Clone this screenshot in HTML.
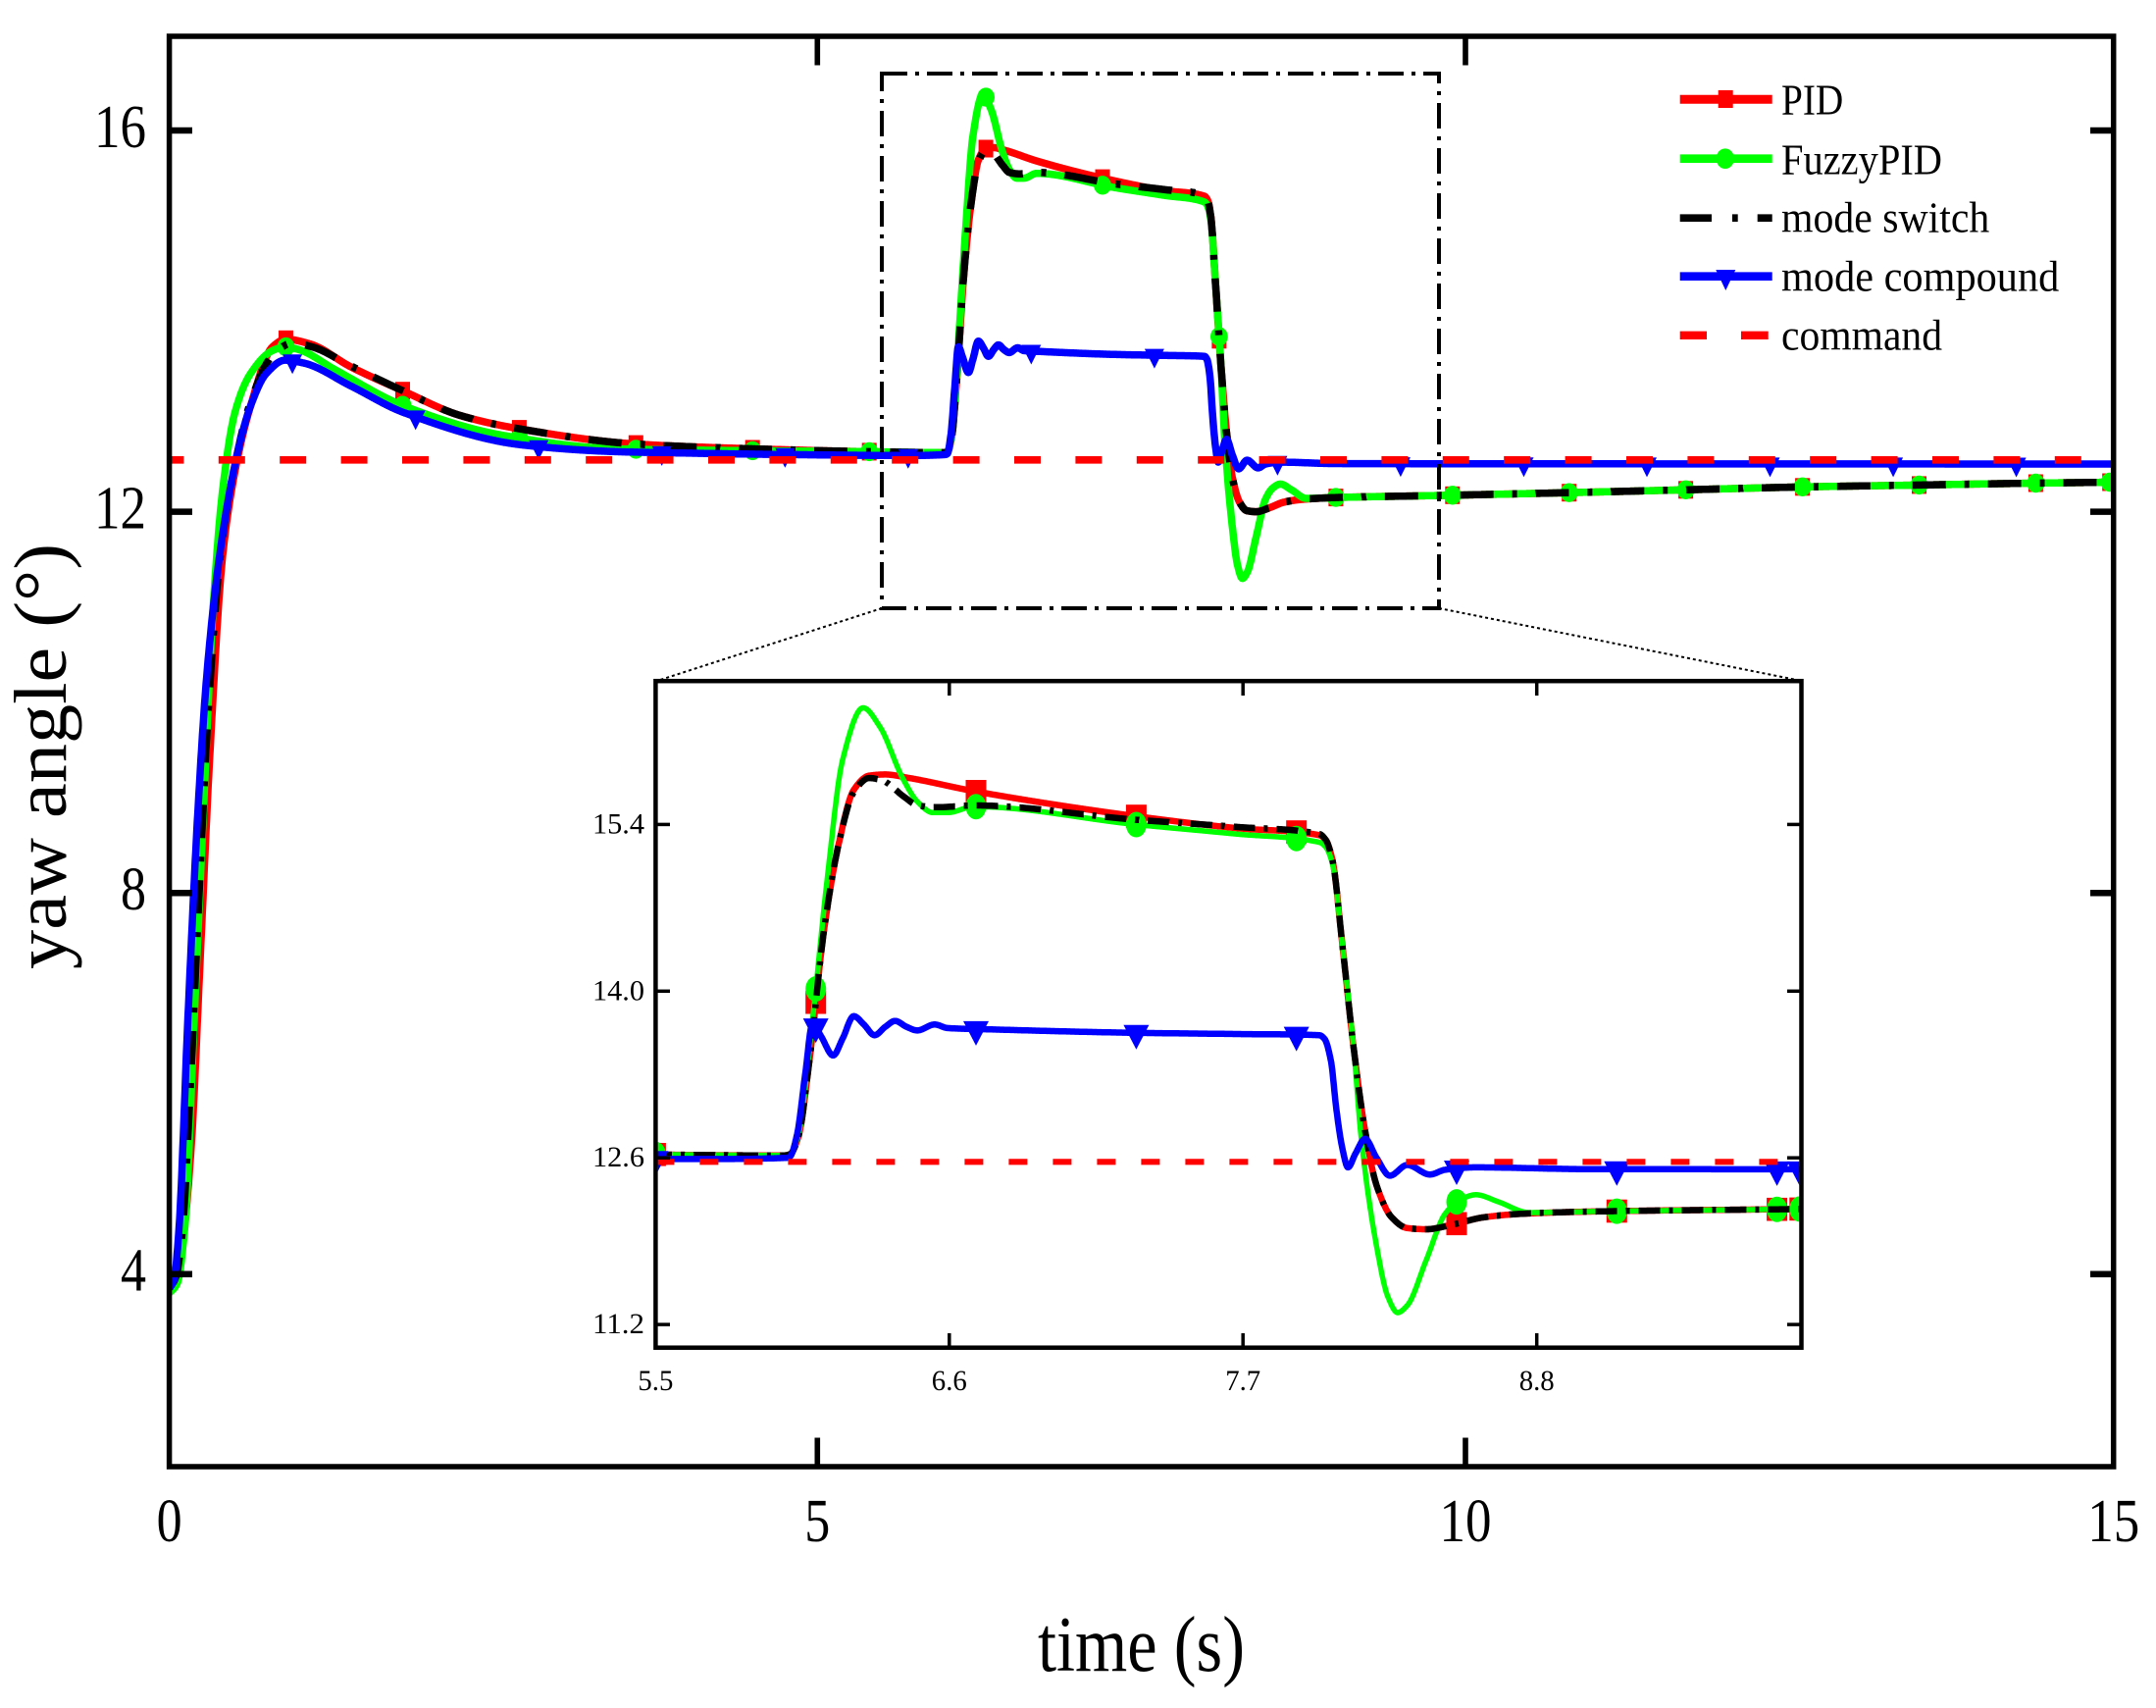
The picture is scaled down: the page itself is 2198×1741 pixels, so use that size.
<!DOCTYPE html>
<html><head><meta charset="utf-8">
<style>
html,body{margin:0;padding:0;background:#fff}
svg{display:block}
text{font-family:"Liberation Serif","DejaVu Serif",serif;fill:#000}
</style>
</head><body>
<svg id="s" xmlns="http://www.w3.org/2000/svg" width="2198" height="1741" viewBox="0 0 2198 1741">
<defs>
<clipPath id="cm"><rect x="175" y="39.5" width="1977" height="1453"/></clipPath>
<clipPath id="ci"><rect x="670.6" y="696.4" width="1163.7" height="675"/></clipPath>
</defs>
<rect width="2198" height="1741" fill="#fff"/>
<g id="mainlines" clip-path="url(#cm)"></g>

<!-- zoom box -->
<rect x="899" y="75" width="568" height="545" fill="none" stroke="#000" stroke-width="4" stroke-dasharray="26 8 4 8"/>
<line x1="899" y1="620" x2="670" y2="694" stroke="#000" stroke-width="2" stroke-dasharray="3 3"/>
<line x1="1467" y1="620" x2="1836.5" y2="694" stroke="#000" stroke-width="2" stroke-dasharray="3 3"/>

<!-- inset -->
<rect x="668.4" y="694.2" width="1168.1" height="679.5" fill="#fff"/>
<g id="insetlines" clip-path="url(#ci)"></g>
<rect x="668.4" y="694.2" width="1168.1" height="679.5" fill="none" stroke="#000" stroke-width="4.5"/>
<g stroke="#000" stroke-width="3.5">
<line x1="967.8" y1="1373.7" x2="967.8" y2="1359"/>
<line x1="1267.2" y1="1373.7" x2="1267.2" y2="1359"/>
<line x1="1566.7" y1="1373.7" x2="1566.7" y2="1359"/>
<line x1="967.8" y1="694.2" x2="967.8" y2="709"/>
<line x1="1267.2" y1="694.2" x2="1267.2" y2="709"/>
<line x1="1566.7" y1="694.2" x2="1566.7" y2="709"/>
<line x1="668.4" y1="840.4" x2="683" y2="840.4"/>
<line x1="668.4" y1="1010.3" x2="683" y2="1010.3"/>
<line x1="668.4" y1="1180.2" x2="683" y2="1180.2"/>
<line x1="668.4" y1="1350.1" x2="683" y2="1350.1"/>
<line x1="1836.5" y1="840.4" x2="1822" y2="840.4"/>
<line x1="1836.5" y1="1010.3" x2="1822" y2="1010.3"/>
<line x1="1836.5" y1="1180.2" x2="1822" y2="1180.2"/>
<line x1="1836.5" y1="1350.1" x2="1822" y2="1350.1"/>
</g>
<g font-size="30">
<text x="657" y="849.4" text-anchor="end" textLength="53" lengthAdjust="spacingAndGlyphs">15.4</text>
<text x="657" y="1019.3" text-anchor="end" textLength="53" lengthAdjust="spacingAndGlyphs">14.0</text>
<text x="657" y="1189.2" text-anchor="end" textLength="53" lengthAdjust="spacingAndGlyphs">12.6</text>
<text x="657" y="1359.1" text-anchor="end" textLength="53" lengthAdjust="spacingAndGlyphs">11.2</text>
<text x="668.4" y="1417" text-anchor="middle" textLength="36" lengthAdjust="spacingAndGlyphs">5.5</text>
<text x="967.8" y="1417" text-anchor="middle" textLength="36" lengthAdjust="spacingAndGlyphs">6.6</text>
<text x="1267.2" y="1417" text-anchor="middle" textLength="36" lengthAdjust="spacingAndGlyphs">7.7</text>
<text x="1566.7" y="1417" text-anchor="middle" textLength="36" lengthAdjust="spacingAndGlyphs">8.8</text>
</g>

<!-- main frame -->
<rect x="172.6" y="37" width="1982.1" height="1458" fill="none" stroke="#000" stroke-width="5.5"/>
<g stroke="#000" stroke-width="6.5">
<line x1="172.6" y1="133" x2="196" y2="133"/>
<line x1="172.6" y1="521.6" x2="196" y2="521.6"/>
<line x1="172.6" y1="910.2" x2="196" y2="910.2"/>
<line x1="172.6" y1="1298.8" x2="196" y2="1298.8"/>
<line x1="2154.7" y1="133" x2="2131" y2="133"/>
<line x1="2154.7" y1="521.6" x2="2131" y2="521.6"/>
<line x1="2154.7" y1="910.2" x2="2131" y2="910.2"/>
<line x1="2154.7" y1="1298.8" x2="2131" y2="1298.8"/>
</g>
<g stroke="#000" stroke-width="5.6">
<line x1="833.3" y1="1495" x2="833.3" y2="1465.5"/>
<line x1="1494" y1="1495" x2="1494" y2="1465.5"/>
<line x1="833.3" y1="37" x2="833.3" y2="66.5"/>
<line x1="1494" y1="37" x2="1494" y2="66.5"/>
</g>
<g font-size="62">
<text x="149" y="150" text-anchor="end" textLength="53" lengthAdjust="spacingAndGlyphs">16</text>
<text x="149" y="538.3" text-anchor="end" textLength="53" lengthAdjust="spacingAndGlyphs">12</text>
<text x="149" y="926.9" text-anchor="end" textLength="26" lengthAdjust="spacingAndGlyphs">8</text>
<text x="149" y="1315.5" text-anchor="end" textLength="26" lengthAdjust="spacingAndGlyphs">4</text>
<text x="172.6" y="1571" text-anchor="middle" textLength="26" lengthAdjust="spacingAndGlyphs">0</text>
<text x="833.3" y="1571" text-anchor="middle" textLength="26" lengthAdjust="spacingAndGlyphs">5</text>
<text x="1494" y="1571" text-anchor="middle" textLength="53" lengthAdjust="spacingAndGlyphs">10</text>
<text x="2154.7" y="1571" text-anchor="middle" textLength="53" lengthAdjust="spacingAndGlyphs">15</text>
</g>
<text x="1058" y="1703" font-size="80" textLength="211" lengthAdjust="spacingAndGlyphs">time (s)</text>
<text transform="translate(67,988) rotate(-90)" font-size="76" textLength="434" lengthAdjust="spacingAndGlyphs">yaw angle (°)</text>

<!-- legend -->
<g>
<line x1="1712.7" y1="101.2" x2="1806.7" y2="101.2" stroke="#f00" stroke-width="9"/>
<rect x="1751.7" y="92" width="15" height="18" fill="#f00"/>
<line x1="1712.7" y1="161.7" x2="1806.7" y2="161.7" stroke="#0f0" stroke-width="8.7"/>
<ellipse cx="1758.8" cy="161.7" rx="9.2" ry="10.3" fill="#0f0"/>
<line x1="1712.7" y1="222.2" x2="1806.7" y2="222.2" stroke="#000" stroke-width="7.7" stroke-dasharray="32.3 21 5.7 20 40"/>
<line x1="1712.7" y1="281.7" x2="1806.7" y2="281.7" stroke="#00f" stroke-width="8.7"/>
<polygon points="1749.3,275 1769.3,275 1759.3,296" fill="#00f"/>
<line x1="1712.7" y1="341.8" x2="1806.7" y2="341.8" stroke="#f00" stroke-width="8.3" stroke-dasharray="27.3 35 27.7 20"/>
<g font-size="44">
<text x="1816" y="116.7" textLength="63.3" lengthAdjust="spacingAndGlyphs">PID</text>
<text x="1816" y="177.3" textLength="164" lengthAdjust="spacingAndGlyphs">FuzzyPID</text>
<text x="1816" y="236.7" textLength="212.3" lengthAdjust="spacingAndGlyphs">mode switch</text>
<text x="1816" y="296.7" textLength="283.3" lengthAdjust="spacingAndGlyphs">mode compound</text>
<text x="1816" y="356.7" textLength="164" lengthAdjust="spacingAndGlyphs">command</text>
</g>
</g>
</svg>
<script>
(function(){
var NS='http://www.w3.org/2000/svg';
function pchip(pts){
  var n=pts.length,xs=[],ys=[],d=[],m=[];
  for(var i=0;i<n;i++){xs.push(pts[i][0]);ys.push(pts[i][1]);}
  for(i=0;i<n-1;i++)d.push((ys[i+1]-ys[i])/(xs[i+1]-xs[i]));
  m[0]=d[0];m[n-1]=d[n-2];
  for(i=1;i<n-1;i++){
    if(d[i-1]*d[i]<=0)m[i]=0;
    else{var h0=xs[i]-xs[i-1],h1=xs[i+1]-xs[i];var w1=2*h1+h0,w2=h1+2*h0;m[i]=(w1+w2)/(w1/d[i-1]+w2/d[i]);}
  }
  return function(t){
    if(t<=xs[0])return ys[0];if(t>=xs[n-1])return ys[n-1];
    var lo=0,hi=n-1;while(hi-lo>1){var mid=(lo+hi)>>1;if(xs[mid]<=t)lo=mid;else hi=mid;}
    var h=xs[hi]-xs[lo],s=(t-xs[lo])/h,s2=s*s,s3=s2*s;
    return (2*s3-3*s2+1)*ys[lo]+(s3-2*s2+s)*h*m[lo]+(-2*s3+3*s2)*ys[hi]+(s3-s2)*h*m[hi];
  };
}
var tail=[[9.029,12.15],[9.79,12.17],[10.8,12.2],[11.7,12.23],[12.6,12.26],[13.5,12.28],[14.4,12.3],[15,12.31]];
var midRed=[[1.8,13.27],[2.244,13.01],[2.7,12.87],[3.6,12.71],[4.5,12.66],[5.4,12.63],[5.98,12.62]];
var fallRed=[[8.01,15.27],[8.035,15.1],[8.072,14.39],[8.114,13.53],[8.157,12.83],[8.2,12.37],[8.257,12.1],[8.315,12.01],[8.386,12.0],[8.486,12.04],[8.6,12.1],[8.743,12.13]];
var red=[[0,3.85],[0.05,3.95],[0.1,4.3],[0.168,5.32],[0.241,7.39],[0.313,9.46],[0.41,11.52],[0.506,12.42],[0.627,13.11],[0.796,13.73],[0.9,13.81],[1.086,13.76],[1.4,13.52]]
 .concat(midRed)
 .concat([[6.003,12.63],[6.035,12.78],[6.074,13.38],[6.13,14.5],[6.186,15.24],[6.242,15.69],[6.30,15.81],[6.36,15.82],[6.45,15.79],[6.692,15.68],[7.297,15.47],[7.673,15.37],[7.986,15.31]])
 .concat(fallRed).concat(tail);
var black=[[0,3.85],[0.05,3.97],[0.1,4.45],[0.16,5.9],[0.23,8.0],[0.3,9.9],[0.39,11.5],[0.5,12.45],[0.627,13.15],[0.796,13.64],[0.95,13.77],[1.1,13.73],[1.4,13.53]]
 .concat(midRed)
 .concat([[6.003,12.63],[6.035,12.78],[6.074,13.38],[6.13,14.5],[6.186,15.24],[6.242,15.67],[6.30,15.79],[6.348,15.77],[6.432,15.63],[6.481,15.56],[6.558,15.545],[6.692,15.56],[7.297,15.44],[7.673,15.38],[7.986,15.32]])
 .concat(fallRed).concat(tail);
var green=[[0,3.8],[0.06,3.9],[0.12,4.5],[0.193,6.7],[0.265,8.9],[0.337,10.97],[0.41,12.21],[0.506,13.04],[0.627,13.45],[0.796,13.69],[0.893,13.73],[1.0,13.70],[1.279,13.49],[1.81,13.11],[2.58,12.80],[3.45,12.66],[4.5,12.64],[5.4,12.63],[5.98,12.62],
 [6.003,12.63],[6.035,12.8],[6.088,13.77],[6.144,14.97],[6.2,15.94],[6.277,16.38],[6.34,16.22],[6.425,15.79],[6.481,15.59],[6.538,15.50],[6.594,15.50],[6.692,15.55],[7.297,15.40],[7.673,15.32],[7.986,15.25],
 [8.01,15.21],[8.035,15.07],[8.072,14.39],[8.114,13.53],[8.143,12.76],[8.2,11.86],[8.243,11.43],[8.279,11.30],[8.315,11.36],[8.386,11.74],[8.457,12.13],[8.515,12.25],[8.572,12.29],[8.657,12.23],[8.772,12.14]].concat(tail);
var blue=[[0,3.85],[0.036,3.94],[0.072,4.42],[0.144,6.70],[0.217,8.77],[0.289,10.28],[0.386,11.52],[0.506,12.49],[0.627,13.11],[0.748,13.45],[0.893,13.59],[1.037,13.56],[1.4,13.32],[1.81,13.04],[2.727,12.70],[3.45,12.63],[3.79,12.62],[4.75,12.60],[5.7,12.59],[5.99,12.60],
 [6.003,12.61],[6.03,12.8],[6.06,13.3],[6.088,13.73],[6.12,13.62],[6.165,13.46],[6.2,13.6],[6.242,13.79],[6.28,13.72],[6.32,13.63],[6.36,13.7],[6.397,13.75],[6.44,13.7],[6.48,13.67],[6.545,13.72],[6.594,13.69],[6.735,13.68],[7.297,13.65],[7.673,13.64],[7.986,13.63],
 [8.005,13.6],[8.029,13.417],[8.05,13.0],[8.072,12.68],[8.093,12.52],[8.122,12.64],[8.157,12.76],[8.2,12.6],[8.25,12.45],[8.315,12.54],[8.4,12.46],[8.457,12.5],[8.57,12.52],[9,12.505],[15,12.5]];
var fR=pchip(red),fG=pchip(green),fK=pchip(black),fB=pchip(blue);

function X(t){return 172.6+132.14*t;}
function Y(v){return 133+97.15*(16-v);}
function XI(t){return 668.4+272.2*(t-5.5);}
function YI(v){return 840.4+121.36*(15.4-v);}

function el(tag,attrs,parent){var e=document.createElementNS(NS,tag);for(var k in attrs)e.setAttribute(k,attrs[k]);parent.appendChild(e);return e;}
function pathD(f,t0,t1,dt,Xf,Yf){var s='';for(var t=t0;t<=t1+1e-9;t+=dt){s+=(s?'L':'M')+Xf(t).toFixed(1)+','+Yf(f(t)).toFixed(1);}return s;}
function sq(g,x,y,hw,hh,c){el('rect',{x:(x-hw).toFixed(1),y:(y-hh).toFixed(1),width:(2*hw).toFixed(1),height:(2*hh).toFixed(1),fill:c},g);}
function ci(g,x,y,rx,ry,c){el('ellipse',{cx:x.toFixed(1),cy:y.toFixed(1),rx:rx,ry:ry,fill:c},g);}
function tri(g,x,y,hw,top,tip,c){el('polygon',{points:(x-hw).toFixed(1)+','+(y-top).toFixed(1)+' '+(x+hw).toFixed(1)+','+(y-top).toFixed(1)+' '+x.toFixed(1)+','+(y+tip).toFixed(1),fill:c},g);}

// main
var gm=document.getElementById('mainlines');
var lw=7.5;
el('path',{d:pathD(fR,0,15,0.004,X,Y),fill:'none',stroke:'#f00','stroke-width':lw,'stroke-linejoin':'round'},gm);
var k,t;
for(k=1;k<=16;k++){t=0.9*k;sq(gm,X(t),Y(fR(t)),7.5,9,'#f00');}
sq(gm,X(14.97),Y(fR(14.97)),7.5,9,'#f00');
el('path',{d:pathD(fG,0,15,0.004,X,Y),fill:'none',stroke:'#0f0','stroke-width':lw,'stroke-linejoin':'round'},gm);
for(k=1;k<=16;k++){t=0.9*k;ci(gm,X(t),Y(fG(t)),8.9,9.7,'#0f0');}
ci(gm,X(14.97),Y(fG(14.97)),8.9,9.7,'#0f0');
el('path',{d:pathD(fK,0,15,0.004,X,Y),fill:'none',stroke:'#000','stroke-width':lw,'stroke-dasharray':'34 19 5 19'},gm);
el('path',{d:pathD(fB,0,15,0.004,X,Y),fill:'none',stroke:'#00f','stroke-width':lw,'stroke-linejoin':'round'},gm);
for(k=1;k<=15;k++){t=0.95*k;tri(gm,X(t),Y(fB(t)),10,6.5,13.5,'#00f');}
el('line',{x1:172.6,y1:468.8,x2:2154.7,y2:468.8,stroke:'#f00','stroke-width':7.7,'stroke-dasharray':'27 35.4','stroke-dashoffset':12.2},gm);

// inset
var gi=document.getElementById('insetlines');
var ts=[];for(k=0;k<=7;k++)ts.push(5.5+0.6*k);ts.push(9.785);
el('path',{d:pathD(fR,5.48,9.8,0.002,XI,YI),fill:'none',stroke:'#f00','stroke-width':6.5,'stroke-linejoin':'round'},gi);
ts.forEach(function(t){sq(gi,XI(t),YI(fR(t)),10.5,11.8,'#f00');});
el('path',{d:pathD(fG,5.48,9.8,0.002,XI,YI),fill:'none',stroke:'#0f0','stroke-width':5.5,'stroke-linejoin':'round'},gi);
ts.forEach(function(t){ci(gi,XI(t),YI(fG(t)),10.5,13,'#0f0');});
el('path',{d:pathD(fK,5.48,9.8,0.002,XI,YI),fill:'none',stroke:'#000','stroke-width':6.5,'stroke-dasharray':'22 9 4 9'},gi);
el('path',{d:pathD(fB,5.48,9.8,0.002,XI,YI),fill:'none',stroke:'#00f','stroke-width':6.5,'stroke-linejoin':'round'},gi);
ts.forEach(function(t){tri(gi,XI(t),YI(fB(t)),13,8,17,'#00f');});
el('line',{x1:668.4,y1:1184.3,x2:1836.5,y2:1184.3,stroke:'#f00','stroke-width':6.1,'stroke-dasharray':'19 26','stroke-dashoffset':0},gi);
})();
</script>
</body></html>
